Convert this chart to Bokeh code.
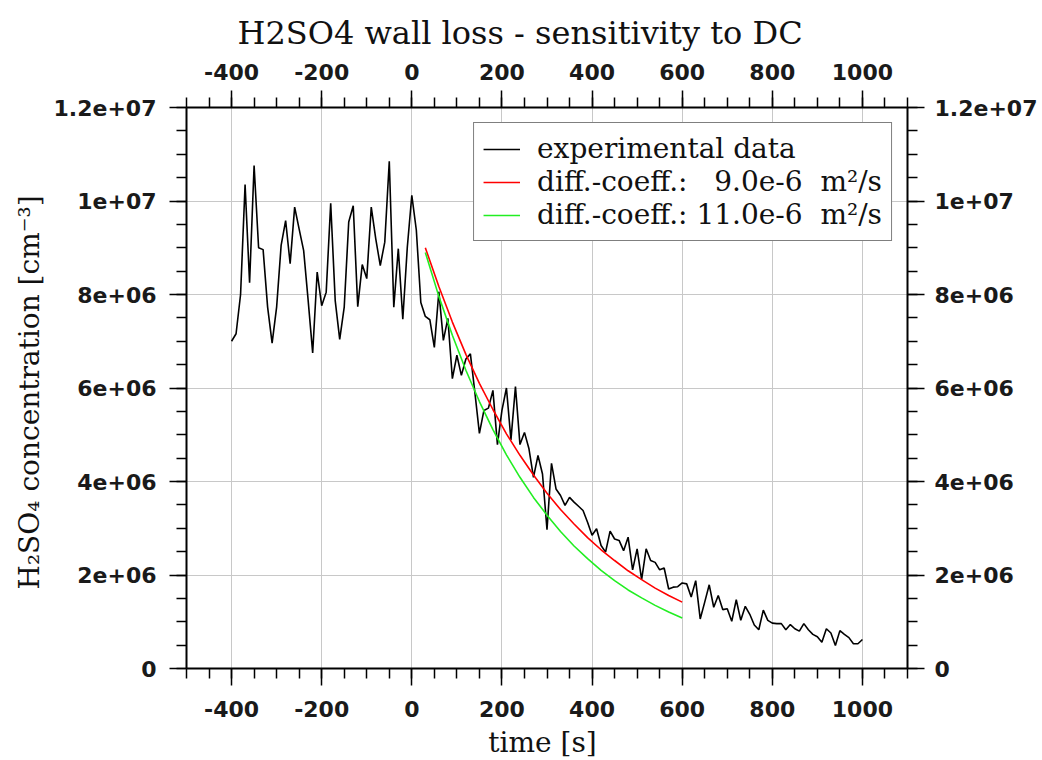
from bokeh.plotting import figure
from bokeh.models import (LinearAxis, SingleIntervalTicker, CustomJSTickFormatter,
                          Range1d, Legend, LegendItem, ColumnDataSource)
from bokeh.embed import file_html
from bokeh.resources import INLINE

# ---------------- data ----------------
time_s = [
    -400, -390, -380, -370, -360, -350, -340, -330, -320, -310,
    -300, -290, -280, -270, -260, -250, -240, -230, -220, -210,
    -200, -190, -180, -170, -160, -150, -140, -130, -120, -110,
    -100, -90, -80, -70, -60, -50, -40, -30, -20, -10,
    0, 10, 20, 30, 40, 50, 60, 70, 80, 90,
    100, 110, 120, 130, 140, 150, 160, 170, 180, 190,
    200, 210, 220, 230, 240, 250, 260, 270, 280, 290,
    300, 310, 320, 330, 340, 350, 360, 370, 380, 390,
    400, 410, 420, 430, 440, 450, 460, 470, 480, 490,
    500, 510, 520, 530, 540, 550, 560, 570, 580, 590,
    600, 610, 620, 630, 640, 650, 660, 670, 680, 690,
    700, 710, 720, 730, 740, 750, 760, 770, 780, 790,
    800, 810, 820, 830, 840, 850, 860, 870, 880, 890,
    900, 910, 920, 930, 940, 950, 960, 970, 980, 990,
    1000,
]
# experimental H2SO4 concentration, in units of 1e6 cm^-3
h2so4_exp_e6 = [
    7.00, 7.16, 8.00, 10.35, 8.25, 10.76, 9.00, 8.96, 7.73, 6.96,
    7.73, 9.05, 9.58, 8.66, 9.87, 9.40, 8.94, 7.87, 6.75, 8.48,
    7.76, 8.05, 9.95, 7.87, 7.04, 7.73, 9.55, 9.90, 7.74, 8.64,
    8.34, 9.87, 9.19, 8.62, 9.12, 10.85, 7.73, 8.98, 7.47, 9.01,
    10.12, 9.38, 7.83, 7.53, 7.46, 6.87, 8.06, 7.02, 7.49, 6.20,
    6.70, 6.27, 6.62, 6.73, 5.90, 5.03, 5.52, 5.57, 5.95, 4.79,
    5.52, 6.00, 4.89, 6.03, 4.79, 5.05, 4.70, 4.09, 4.56, 4.16,
    2.97, 4.39, 3.84, 3.70, 3.49, 3.66, 3.56, 3.47, 3.38, 3.13,
    2.85, 2.99, 2.63, 2.49, 2.94, 2.77, 2.74, 2.52, 2.81, 2.11,
    2.56, 1.90, 2.56, 2.31, 2.27, 2.11, 2.15, 1.70, 1.74, 1.75,
    1.83, 1.81, 1.53, 1.88, 1.06, 1.42, 1.79, 1.31, 1.56, 1.26,
    1.28, 1.01, 1.47, 1.03, 1.33, 1.16, 0.93, 0.83, 1.25, 1.03,
    0.97, 0.96, 0.96, 0.83, 0.94, 0.85, 0.80, 0.96, 0.83, 0.73,
    0.68, 0.56, 0.85, 0.76, 0.49, 0.81, 0.73, 0.66, 0.53, 0.53,
    0.62,
]
model_time = [30, 60, 90, 120, 150, 180, 210, 240, 270, 300,
              330, 360, 390, 420, 450, 480, 510, 540, 570, 600]
# model curves, in units of 1e6 cm^-3
dc_9_e6 = [9.00, 8.17, 7.41, 6.72, 6.10, 5.54, 5.02, 4.56, 4.14, 3.75,
           3.40, 3.09, 2.80, 2.54, 2.31, 2.09, 1.90, 1.72, 1.56, 1.42]
dc_11_e6 = [8.90, 7.96, 7.13, 6.38, 5.71, 5.11, 4.57, 4.09, 3.66, 3.28,
            2.93, 2.62, 2.35, 2.10, 1.88, 1.68, 1.51, 1.35, 1.21, 1.08]

legend_labels = ["experimental data",
                 "diff.-coeff.:   9.0e-6  m\u00b2/s",
                 "diff.-coeff.: 11.0e-6  m\u00b2/s"]

title_text = "H2SO4 wall loss - sensitivity to DC"
x_label = "time  [s]"
y_label = "H\u2082SO\u2084 concentration  [cm\u207b\u00b3]"

# ---------------- figure ----------------
SERIF = "DejaVu Serif"
SANS = "DejaVu Sans"

p = figure(frame_width=721, frame_height=561,
           x_range=Range1d(-500, 1100), y_range=Range1d(0, 1.2e7),
           output_backend="svg", toolbar_location=None,
           min_border_left=186, min_border_right=120,
           min_border_top=107, min_border_bottom=60,
           background_fill_color="white", border_fill_color="white",
           outline_line_color=None)

p.title.text = title_text
p.title.align = "left"
p.title.offset = 51
p.title.standoff = 18
p.title.text_font = SERIF
p.title.text_font_style = "normal"
p.title.text_font_size = "32px"
p.title.text_color = "#111111"

src_exp = ColumnDataSource(dict(t=time_s, c=[v * 1e6 for v in h2so4_exp_e6]))
src_mod = ColumnDataSource(dict(t=model_time,
                                c9=[v * 1e6 for v in dc_9_e6],
                                c11=[v * 1e6 for v in dc_11_e6]))

r_exp = p.line("t", "c", source=src_exp, line_color="black", line_width=1.6)
r_9 = p.line("t", "c9", source=src_mod, line_color="#ff0000", line_width=1.6)
r_11 = p.line("t", "c11", source=src_mod, line_color="#22ee22", line_width=1.6)

xfmt = CustomJSTickFormatter(code="return String(Math.round(tick));")
yfmt = CustomJSTickFormatter(code="""
    if (Math.abs(tick) < 1) return "0";
    let s = Number(tick.toPrecision(6)).toExponential();
    return s.replace(/e([+-])(\\d)$/, "e$10$2");
""")


def style_axis(ax, interval):
    ax.ticker = SingleIntervalTicker(interval=interval, num_minor_ticks=4)
    ax.axis_line_width = 2
    ax.axis_line_color = "black"
    ax.major_tick_line_width = 1.5
    ax.minor_tick_line_width = 1.5
    ax.major_tick_line_color = "black"
    ax.minor_tick_line_color = "black"
    ax.major_tick_out = 17
    ax.major_tick_in = 0
    ax.minor_tick_out = 10
    ax.minor_tick_in = 0
    ax.major_label_text_font = SANS
    ax.major_label_text_font_style = "bold"
    ax.major_label_text_font_size = "22px"
    ax.major_label_text_color = "#1a1a1a"
    ax.axis_label_text_font = SERIF
    ax.axis_label_text_font_style = "normal"
    ax.axis_label_text_font_size = "28px"
    ax.axis_label_text_color = "#111111"


xb = p.xaxis[0]
yl = p.yaxis[0]
xt = LinearAxis()
yr = LinearAxis()
p.add_layout(xt, "above")
p.add_layout(yr, "right")

for ax in (xb, xt):
    style_axis(ax, 200)
    ax.formatter = xfmt
xb.major_label_standoff = 15
xt.major_label_standoff = 11
for ax in (yl, yr):
    style_axis(ax, 2e6)
    ax.formatter = yfmt
yl.major_label_standoff = 13
yr.major_label_standoff = 10

xb.axis_label = x_label
yl.axis_label = y_label
xb.axis_label_standoff = 6
yl.axis_label_standoff = 5

p.xgrid.ticker = SingleIntervalTicker(interval=200, num_minor_ticks=4)
p.ygrid.ticker = SingleIntervalTicker(interval=2e6, num_minor_ticks=4)
for g in (p.xgrid[0], p.ygrid[0]):
    g.grid_line_color = "#c8c8c8"
    g.grid_line_width = 1

legend = Legend(items=[
    LegendItem(label=legend_labels[0], renderers=[r_exp]),
    LegendItem(label=legend_labels[1], renderers=[r_9]),
    LegendItem(label=legend_labels[2], renderers=[r_11]),
], location="top_right")
legend.margin = 15
legend.padding = 9
legend.spacing = 0
legend.glyph_width = 37
legend.label_standoff = 17
legend.label_text_font = SERIF
legend.label_text_font_size = "28px"
legend.label_text_color = "#111111"
legend.border_line_color = "black"
legend.border_line_width = 1.5
legend.background_fill_alpha = 1.0
legend.label_height = 30
p.add_layout(legend)

open("out.html", "w").write(file_html(p, INLINE))
